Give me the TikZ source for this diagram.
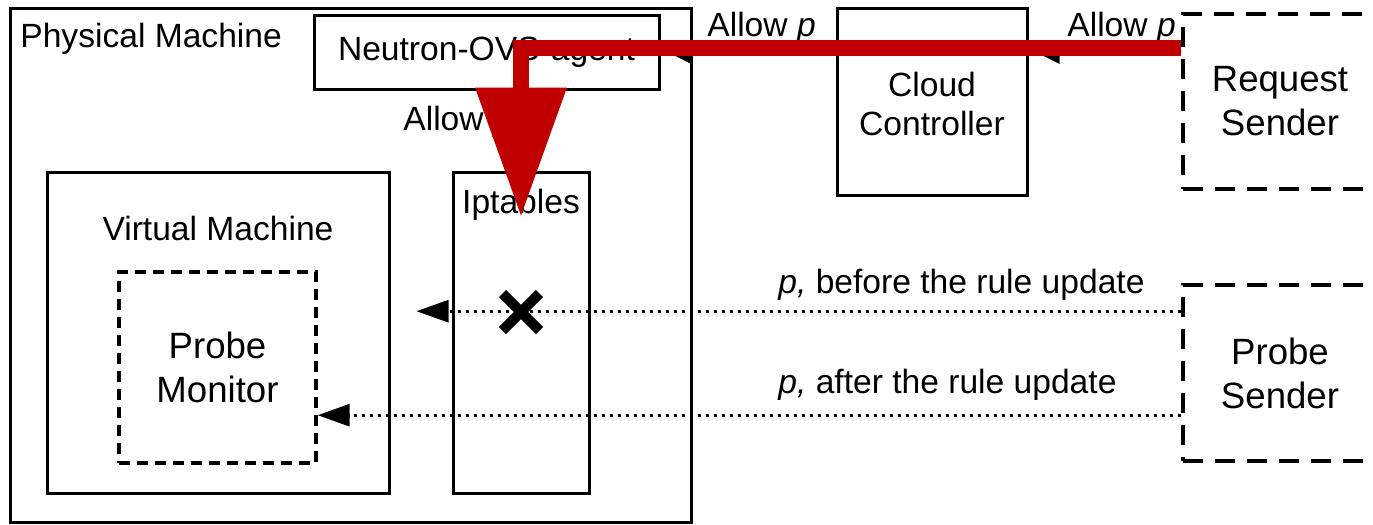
\documentclass[tikz,border=0pt]{standalone}
\usepackage{fontspec}
\setmainfont{Liberation Sans}
\usetikzlibrary{arrows.meta}
\definecolor{alertred}{RGB}{192,0,0}

\begin{document}
\begin{tikzpicture}[x=0.5pt,y=-0.5pt,
  every node/.style={font=\fontsize{16.8}{21}\selectfont},
  bigtext/.style={font=\fontsize{18.3}{22}\selectfont},
  box/.style={draw,line width=1.5pt,inner sep=0pt,align=center},
  dbox/.style={draw,line width=1.8pt,dash pattern=on 10pt off 6pt,inner sep=0pt,align=center},
  sbox/.style={draw,line width=1.7pt,dash pattern=on 5.5pt off 3.5pt,inner sep=0pt,align=center},
  lbl/.style={inner sep=0pt},
  flow/.style={line width=1.2pt,-{Triangle[length=11pt,width=11pt]}},
  probeflow/.style={line width=1.5pt,dash pattern=on 1.5pt off 2.5pt,-{Triangle[length=16pt,width=11pt]}},
  redflow/.style={draw=alertred,line width=7.8pt,line join=miter,
    -{Triangle[length=64pt,width=46pt,line width=0pt,fill=alertred]}},
  xmark/.style={line width=5pt}
]
\useasboundingbox (0,0) rectangle (1373,525);

% boxes
\node[box,minimum width=340.5pt,minimum height=257pt] (phys) at (350.5,265) {};
\node[box,minimum width=172.5pt,minimum height=37pt] (agent) at (486.5,52) {Neutron-OVS-agent};
\node[box,minimum width=95pt,minimum height=93.5pt] (cloud) at (932,101.5) {};
\node[lbl,align=center,font=\fontsize{16.8}{19.5}\selectfont] (cloudlbl) at (932,104) {Cloud\\Controller};
\node[dbox,bigtext,minimum width=97pt,minimum height=87.5pt] (req) at (1280,101.5) {Request\\Sender};
\node[dbox,bigtext,minimum width=97pt,minimum height=88pt] (prs) at (1280,373) {Probe\\Sender};
\node[box,minimum width=171pt,minimum height=160.5pt] (vm) at (218,332.5) {};
\node[sbox,bigtext,minimum width=98.5pt,minimum height=95.5pt] (mon) at (217.5,367.5) {Probe\\Monitor};
\node[box,minimum width=68pt,minimum height=160.5pt] (ipt) at (521,332.5) {};

% labels
\node[lbl,anchor=base west] (physlbl) at (20,47) {Physical Machine};
\node[lbl,anchor=base] (vmlbl) at (218,240) {Virtual Machine};
\node[lbl,anchor=base] (iptlbl) at (521,213) {Iptables};
\node[lbl,anchor=base west] (al1) at (707,36) {Allow \textit{p}};
\node[lbl,anchor=base west] (al2) at (1067,36) {Allow \textit{p}};
\node[lbl,anchor=base west] (al3) at (403,130) {Allow \textit{p}};
\node[lbl,anchor=base west] (pl1) at (778,293) {\textit{p,} before the rule update};
\node[lbl,anchor=base west] (pl2) at (778,393) {\textit{p,} after the rule update};

% rule distribution
\draw[flow] ([yshift=-19.5pt]req.north west) -- ([xshift=4.5pt,yshift=24.25pt]cloud.east);
\draw[flow] ([yshift=-22.5pt]cloud.north west) -- ([xshift=4.5pt,yshift=-0.5pt]agent.east);
\coordinate (a3s) at (ipt.north |- agent.south);
\draw[flow] (a3s) -- (ipt.north);

% probes
\coordinate (pb1) at ([yshift=-14pt]prs.north west);
\coordinate (vmr) at ([xshift=13pt]vm.east);
\draw[probeflow] (pb1) -- (vmr |- pb1);
\coordinate (pb2) at ([yshift=-66pt]prs.north west);
\draw[probeflow] (pb2) -- (mon.east |- pb2);

% blocked probe
\node[inner sep=0pt] (blk) at (521,312) {};
\draw[xmark] ([shift={(-18.5,-18.5)}]blk.center) -- ([shift={(18.5,18.5)}]blk.center);
\draw[xmark] ([shift={(-18.5,18.5)}]blk.center) -- ([shift={(18.5,-18.5)}]blk.center);

% request path
\coordinate (rs) at ([yshift=-18pt]req.north west);
\coordinate (rt) at ([yshift=-22.5pt]ipt.north);
\draw[redflow] (rs) -- (rt |- rs) -- (rt);
\end{tikzpicture}
\end{document}
